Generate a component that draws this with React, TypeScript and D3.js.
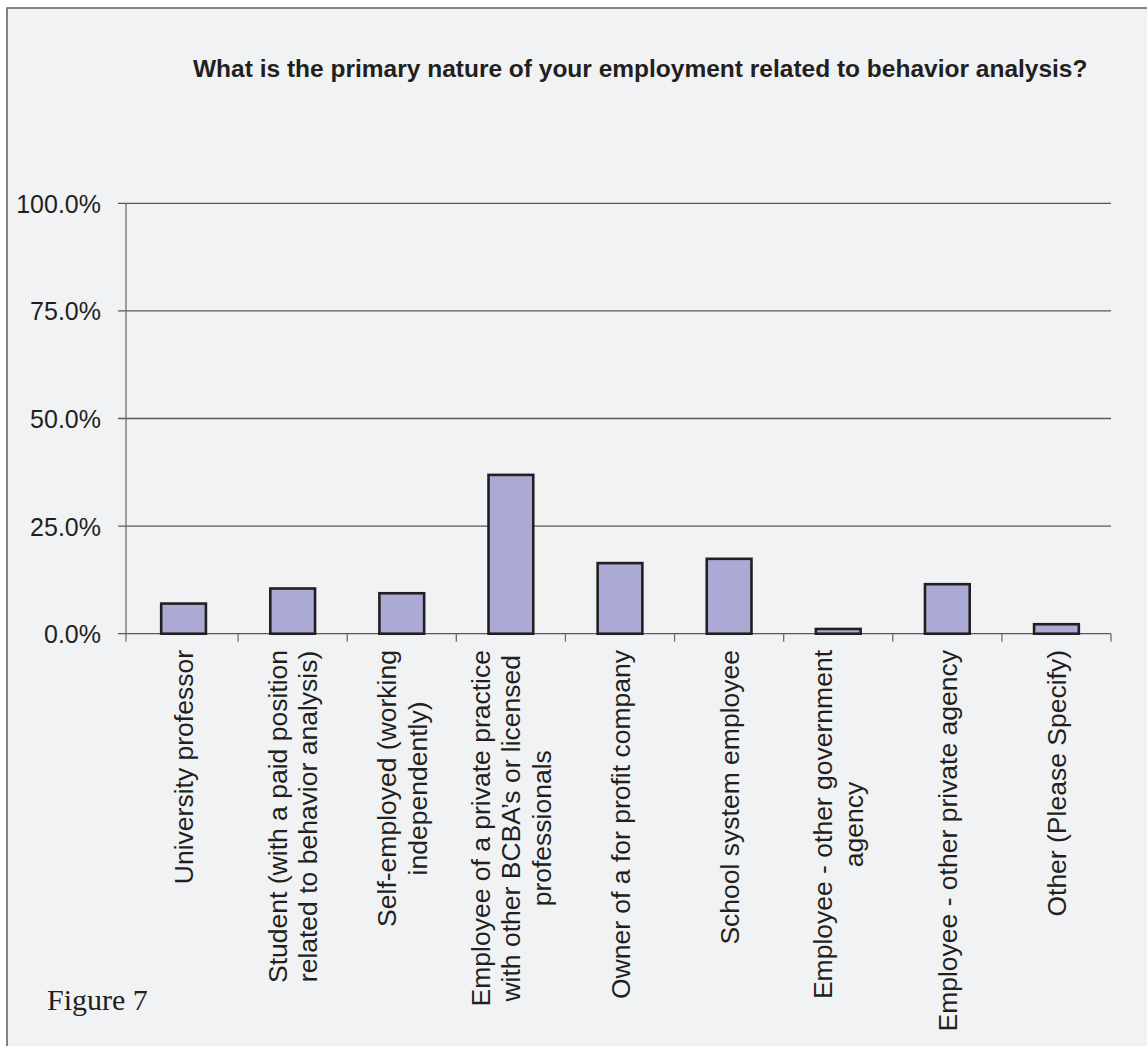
import React, { useEffect, useRef } from 'react';
import * as d3 from 'd3';

const title = 'What is the primary nature of your employment related to behavior analysis?';
const figureLabel = 'Figure 7';

const categories = [
  'University professor',
  'Student (with a paid position related to behavior analysis)',
  'Self-employed (working independently)',
  'Employee of a private practice with other BCBA’s or licensed professionals',
  'Owner of a for profit company',
  'School system employee',
  'Employee - other government agency',
  'Employee - other private agency',
  'Other (Please Specify)',
];

const categoryLines = [
  ['University professor'],
  ['Student (with a paid position', 'related to behavior analysis)'],
  ['Self-employed (working', 'independently)'],
  ['Employee of a private practice', 'with other BCBA’s or licensed', 'professionals'],
  ['Owner of a for profit company'],
  ['School system employee'],
  ['Employee - other government', 'agency'],
  ['Employee - other private agency'],
  ['Other (Please Specify)'],
];

const values = [7.0, 10.5, 9.4, 36.9, 16.4, 17.4, 1.1, 11.5, 2.2];

const yTicks = [0, 25, 50, 75, 100];

export default function App() {
  const ref = useRef<SVGSVGElement>(null);

  useEffect(() => {
    const svg = d3.select(ref.current);
    svg.selectAll('*').remove();

    const W = 1147;
    const H = 1046;
    const left = 126;
    const right = 1111;
    const top = 203.3;
    const bottom = 633.7;
    const textColor = '#231f20';
    const sans = "'Liberation Sans', Arial, Helvetica, sans-serif";

    svg.append('rect').attr('width', W).attr('height', H).attr('fill', '#ffffff');
    svg
      .append('rect')
      .attr('x', 7)
      .attr('y', 8)
      .attr('width', W + 40)
      .attr('height', H + 40)
      .attr('fill', '#f1f2f4')
      .attr('stroke', '#5d5e60')
      .attr('stroke-width', 1.5);

    const x = d3.scaleBand<string>().domain(categories).range([129, right]).paddingInner(0.59).paddingOuter(0.295);
    const y = d3.scaleLinear().domain([0, 100]).range([bottom, top]);

    // gridlines + y ticks
    const g = svg.append('g');
    yTicks.forEach((t) => {
      g.append('line')
        .attr('x1', left - 8)
        .attr('x2', right)
        .attr('y1', y(t))
        .attr('y2', y(t))
        .attr('stroke', '#58595b')
        .attr('stroke-width', 1.3);
      g.append('text')
        .attr('x', 101)
        .attr('y', y(t) + 9.5)
        .attr('text-anchor', 'end')
        .attr('font-family', sans)
        .attr('font-size', 25)
        .attr('fill', textColor)
        .text(d3.format('.1f')(t) + '%');
    });

    // y axis line
    g.append('line')
      .attr('x1', left)
      .attr('x2', left)
      .attr('y1', top)
      .attr('y2', bottom + 8)
      .attr('stroke', '#6d6e71')
      .attr('stroke-width', 1.3);

    // x ticks at band boundaries
    const step = x.step();
    const x0 = x.range()[0];
    categories.forEach((_, i) => {
      const bx = x0 + (i + 1) * step;
      g.append('line')
        .attr('x1', bx)
        .attr('x2', bx)
        .attr('y1', bottom)
        .attr('y2', bottom + 8)
        .attr('stroke', '#6d6e71')
        .attr('stroke-width', 1.3);
    });

    // bars
    svg
      .append('g')
      .selectAll('rect')
      .data(values)
      .join('rect')
      .attr('x', (_, i) => x(categories[i]) as number)
      .attr('y', (d) => y(d))
      .attr('width', x.bandwidth())
      .attr('height', (d) => bottom - y(d))
      .attr('fill', '#aaaad4')
      .attr('stroke', '#231f20')
      .attr('stroke-width', 2.6);

    // x labels (rotated, block top-aligned under the axis, lines centered)
    const fontSize = 26.5;
    const lineH = 30.5;
    const labelTop = 650;
    categoryLines.forEach((lines, i) => {
      const cx = (x(categories[i]) as number) + x.bandwidth() / 2;
      const grp = svg.append('g');
      const texts = lines.map((ln, j) =>
        grp
          .append('text')
          .attr('text-anchor', 'middle')
          .attr('font-family', sans)
          .attr('font-size', fontSize)
          .attr('fill', textColor)
          .attr('x', 0)
          .attr('y', (j - (lines.length - 1) / 2) * lineH + 9.5)
          .text(ln)
      );
      const maxLen = d3.max(texts, (t) => (t.node() as SVGTextElement).getComputedTextLength()) || 0;
      texts.forEach((t) => t.attr('x', -maxLen / 2));
      grp.attr('transform', `translate(${cx},${labelTop}) rotate(-90)`);
    });

    // title
    svg
      .append('text')
      .attr('x', 193)
      .attr('y', 77)
      .attr('font-family', sans)
      .attr('font-weight', 'bold')
      .attr('font-size', 24.5)
      .attr('fill', textColor)
      .text(title);

    // figure label
    svg
      .append('text')
      .attr('x', 47)
      .attr('y', 1010)
      .attr('font-family', "'Liberation Serif', 'DejaVu Serif', serif")
      .attr('font-size', 30)
      .attr('fill', textColor)
      .text(figureLabel);
  }, []);

  return (
    <svg
      ref={ref}
      width={1147}
      height={1046}
      style={{ position: 'absolute', left: 0, top: 0, display: 'block' }}
    />
  );
}
